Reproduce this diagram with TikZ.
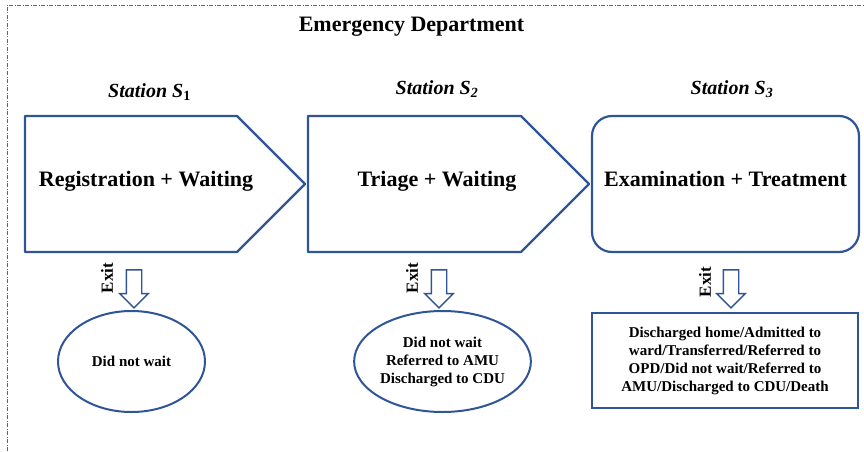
\documentclass[tikz,border=0pt]{standalone}
\usepackage{fontspec}
\setmainfont{Liberation Serif}
\usepackage{xcolor}
\usetikzlibrary{shapes.geometric,shapes.arrows,positioning}
\definecolor{edblue}{HTML}{2F5597}
\newcommand{\edsize}[2]{\fontsize{#1}{#2}\selectfont}

\begin{document}
\begin{tikzpicture}[x=1pt, y=1pt, every node/.style={font=\rmfamily\bfseries},
  stage/.style={draw=edblue, line width=2.2pt, line join=round},
  stagetext/.style={font=\rmfamily\edsize{22}{26}\bfseries, anchor=base},
  station/.style={font=\rmfamily\edsize{20}{24}\bfseries\itshape, anchor=base},
  exitarrow/.style={single arrow, draw=edblue, line width=1.4pt, rotate=-90,
    minimum height=38pt, minimum width=27pt, single arrow head extend=6.5pt, inner sep=7pt},
  exitlabel/.style={font=\rmfamily\edsize{17}{20}\bfseries, rotate=90},
  outcome/.style={draw=edblue, line width=2pt, ellipse, inner sep=0pt, align=center,
    minimum height=101pt, font=\rmfamily\edsize{15}{18}\bfseries},
  outbox/.style={draw=edblue, line width=2.2pt, inner sep=0pt, align=center,
    minimum width=266pt, minimum height=95pt, font=\rmfamily\edsize{15}{18}\bfseries}]
\useasboundingbox (0,0) rectangle (864,451);
% frame of the department
\draw[black!60, line width=0.8pt, dash pattern=on 4pt off 1.5pt on 1pt off 1.5pt] (7,0) -- (7,446) -- (864,446);
\node[font=\rmfamily\edsize{22}{26}\bfseries, anchor=base] (ed) at (411.5,419) {Emergency Department};

% stations
\node[station] (s1) at (149.5,354) {Station S\textsubscript{\upshape 1}};
\node[station] (s2) at (437,357) {Station S\textsubscript{2}};
\node[station] (s3) at (732,357) {Station S\textsubscript{3}};

\draw[stage] (25,335) -- (237,335) -- (305,267) -- (237,199) -- (25,199) -- cycle;
\draw[stage] (308,335) -- (521,335) -- (589,267) -- (521,199) -- (308,199) -- cycle;
\node[stage, rounded corners=20pt, minimum width=267pt, minimum height=136pt] (exam) at (725.5,267) {};
\node[stagetext] (reg) at (146,265) {Registration + Waiting};
\node[stagetext] (tri) at (437,265) {Triage + Waiting};
\node[stagetext] (ext) at (725.5,265) {Examination + Treatment};

% exits
\node[outcome, minimum width=147pt] (out1) at (131.5,89.5) {Did not wait};
\node[outcome, minimum width=141pt] (out2) at (442.5,89.5) {Did not wait\\ Referred to AMU\\ Discharged to CDU};
\node[outbox] (out3) at (725,90.5) {Discharged home/Admitted to\\ ward/Transferred/Referred to\\ OPD/Did not wait/Referred to\\ AMU/Discharged to CDU/Death};

\node[exitarrow] (a1) at (134,166) {};
\node[exitarrow] (a2) at (439,166) {};
\node[exitarrow] (a3) at (731,166) {};
\node[exitlabel] (e1) at (107,173) {Exit};
\node[exitlabel] (e2) at (412,173) {Exit};
\node[exitlabel] (e3) at (705,169) {Exit};
\end{tikzpicture}
\end{document}
